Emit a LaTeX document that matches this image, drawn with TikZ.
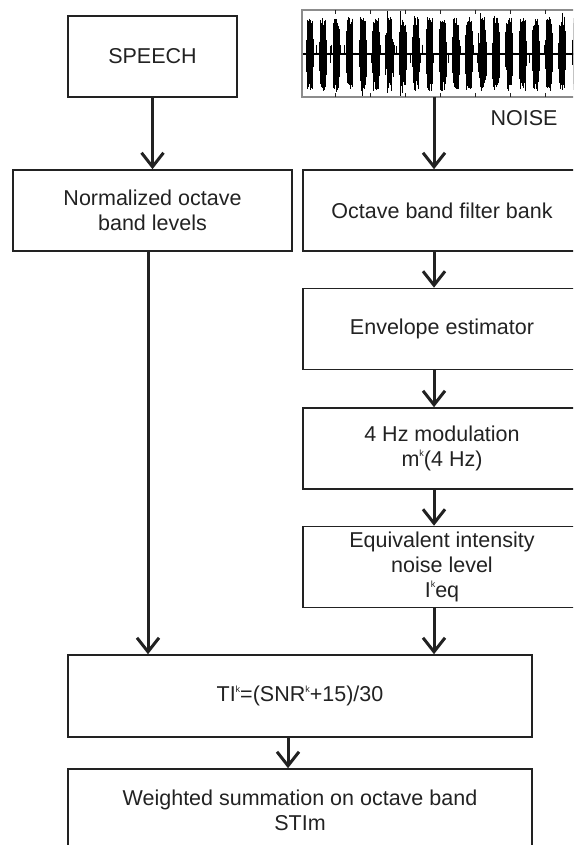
\documentclass[tikz,border=0pt]{standalone}
\usepackage{fontspec}
\setmainfont{Liberation Sans}
\usetikzlibrary{arrows.meta}
\definecolor{inkgray}{HTML}{222222}
\definecolor{framegray}{HTML}{8C8C8C}
\newcommand{\supk}{\raisebox{0.85ex}{\fontsize{9}{9}\selectfont k}}

\begin{document}
\begin{tikzpicture}[x=1pt,y=-1pt,
        every node/.style={font=\fontsize{21.5}{25}\selectfont, text=inkgray},
        blockbox/.style={draw=inkgray, line width=1.6pt, align=center, inner sep=0pt, minimum height=81pt},
        flow/.style={draw=inkgray, line width=3pt, -{Straight Barb[length=14pt,width=22pt]}}]
        \useasboundingbox (0,0) rectangle (573,845);
        \clip (0,0) rectangle (573,845);

        % left column
        \node[blockbox, minimum width=169pt] (speech) at (152.5,56.5) {SPEECH};
        \node[blockbox, minimum width=279pt] (norm) at (152.5,210.5) {Normalized octave\\band levels};

        % noise waveform
        \pgfmathsetseed{11}
        \foreach \x in {303,303.6,...,574}{
            \pgfmathsetmacro{\burst}{abs(sin((\x-303)/13.3*180))}
            \pgfmathsetmacro{\ampa}{(\burst>0.8)*(27+9*rnd)+(\burst>0.62)*(\burst<=0.8)*(10+14*rnd)+1.5*rnd+(rnd>0.95)*8}
            \pgfmathsetmacro{\ampb}{(\burst>0.8)*(27+9*rnd)+(\burst>0.62)*(\burst<=0.8)*(10+14*rnd)+1.5*rnd+(rnd>0.95)*8}
            \draw[black, line width=0.7pt] (\x,54-\ampa) -- (\x,54+\ampb);
        }
        \draw[black, line width=1.2pt] (302,54) -- (590,54);
        \draw[framegray, line width=1.5pt] (590,10) -- (302,10) -- (302,97) -- (590,97);
        \foreach \t in {335,370,...,545}{
            \draw[inkgray, line width=1pt] (\t,10) -- (\t,14);
            \draw[inkgray, line width=1pt] (\t,97) -- (\t,93);
        }
        \coordinate (wave) at (434,97);
        \node (noise) at (524,118) {NOISE};

        % right column
        \node[blockbox, minimum width=278pt] (oct) at (442,210.5) {Octave band filter bank};
        \node[blockbox, minimum width=278pt] (env) at (442,329) {Envelope estimator};
        \node[blockbox, minimum width=278pt] (mod) at (442,448.5) {4 Hz modulation\\m\supk(4 Hz)};
        \node[blockbox, minimum width=278pt] (ieq) at (442,567) {Equivalent intensity\\noise level\\I\supk eq};

        % bottom
        \node[blockbox, minimum width=464pt, minimum height=82pt] (ti) at (300,696) {TI\supk=(SNR\supk+15)/30};
        \node[blockbox, minimum width=464pt, minimum height=82pt] (wsum) at (300,810) {Weighted summation on octave band\\STIm};

        % connectors
        \coordinate (lcol) at (148,0);
        \coordinate (rcol) at (434,0);
        \coordinate (ccol) at (288,0);
        \draw[flow] (speech) -- (norm);
        \draw[flow] (norm.south -| lcol) -- (ti.north -| lcol);
        \draw[flow] (wave) -- (oct.north -| wave);
        \foreach \a/\b in {oct/env, env/mod, mod/ieq, ieq/ti}
            \draw[flow] (\a.south -| rcol) -- (\b.north -| rcol);
        \draw[flow] (ti.south -| ccol) -- (wsum.north -| ccol);
\end{tikzpicture}
\end{document}
